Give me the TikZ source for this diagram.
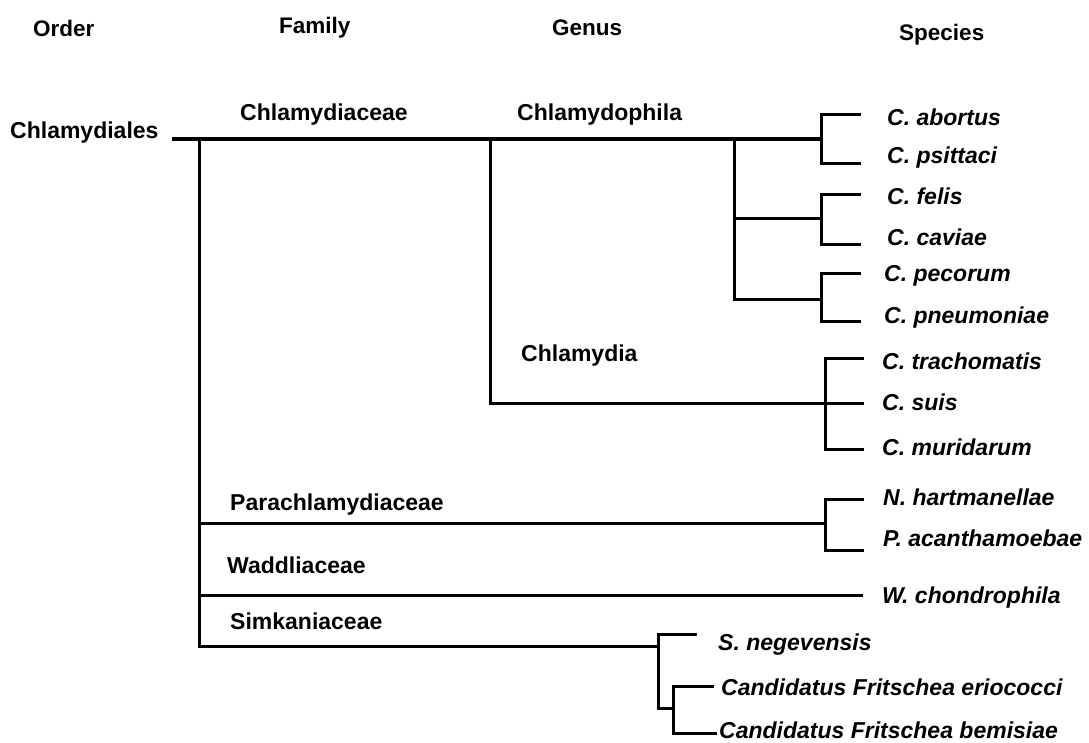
\documentclass[tikz,border=0pt]{standalone}
\usepackage{fontspec}
\setmainfont{Liberation Sans}
\begin{document}
\begin{tikzpicture}[x=1pt,y=-1pt,
  hdr/.style={anchor=base west,inner sep=0pt,font=\fontsize{22.5}{26}\selectfont\bfseries},
  lbl/.style={anchor=base west,inner sep=0pt,font=\fontsize{23}{27}\selectfont\bfseries},
  sp/.style={anchor=base west,inner sep=0pt,font=\fontsize{23}{27}\selectfont\bfseries\itshape},
  br/.style={line width=3pt,line cap=rect},
  main/.style={line width=3.5pt,line cap=rect}]
\useasboundingbox (0,0) rectangle (1089,742);
% headers
\node[hdr] (order) at (33,36) {Order};
\node[hdr] (family) at (279,33) {Family};
\node[hdr] (genus) at (552,35) {Genus};
\node[hdr] (species) at (899,40) {Species};
% taxon labels
\node[lbl] (chlamydiales) at (10,138) {Chlamydiales};
\node[lbl] (chlamydiaceae) at (240,120) {Chlamydiaceae};
\node[lbl] (chlamydophila) at (517,120) {Chlamydophila};
\node[lbl] (chlamydia) at (521,361) {Chlamydia};
\node[lbl] (parachl) at (230,510) {Parachlamydiaceae};
\node[lbl] (waddl) at (227,573) {Waddliaceae};
\node[lbl] (simk) at (230,629) {Simkaniaceae};
% species
\node[sp] (abortus) at (887,125) {C. abortus};
\node[sp] (psittaci) at (887,163) {C. psittaci};
\node[sp] (felis) at (887,204) {C. felis};
\node[sp] (caviae) at (887,245) {C. caviae};
\node[sp] (pecorum) at (884,281) {C. pecorum};
\node[sp] (pneumoniae) at (884,323) {C. pneumoniae};
\node[sp] (trachomatis) at (882,369) {C. trachomatis};
\node[sp] (suis) at (882,410) {C. suis};
\node[sp] (muridarum) at (882,455) {C. muridarum};
\node[sp] (hartmanellae) at (883,505) {N. hartmanellae};
\node[sp] (acanth) at (883,546) {P. acanthamoebae};
\node[sp] (chondro) at (882,603) {W. chondrophila};
\node[sp] (negev) at (718,650) {S. negevensis};
\node[sp] (erio) at (721,695) {Candidatus Fritschea eriococci};
\node[sp] (bemis) at (719,738) {Candidatus Fritschea bemisiae};
% coordinates
\coordinate (root) at (174,139);
\coordinate (famv) at (199,139);
\coordinate (genv) at (490,139);
\coordinate (cphv) at (734,139);
\coordinate (b1) at (821,139);
\coordinate (b1t) at (859,114);
\coordinate (b1b) at (859,163);
\coordinate (b2) at (821,218);
\coordinate (b2t) at (859,194);
\coordinate (b2b) at (859,244);
\coordinate (b3) at (821,299);
\coordinate (b3t) at (859,273);
\coordinate (b3b) at (859,321);
\coordinate (cv) at (825,403);
\coordinate (ct) at (862,358);
\coordinate (cm) at (862,403);
\coordinate (cb) at (862,449);
\coordinate (pv) at (825,523);
\coordinate (pt) at (862,499);
\coordinate (pb) at (862,550);
\coordinate (wend) at (861,595);
\coordinate (sv) at (658,646);
\coordinate (st) at (695,634);
\coordinate (sm) at (673,708);
\coordinate (fet) at (712,686);
\coordinate (feb) at (715,733);
% tree
\draw[main] (root) -- (b1);
\draw[br] (famv) -- (famv |- sv);
\draw[br] (genv) |- (cv);
\draw[br] (cphv) -- (cphv |- b3) -- (b3);
\draw[br] (cphv |- b2) -- (b2);
\draw[br] (b1t) -| (b1) |- (b1b);
\draw[br] (b2t) -| (b2) |- (b2b);
\draw[br] (b3t) -| (b3) |- (b3b);
\draw[br] (ct) -| (cv) |- (cb);
\draw[br] (cv) -- (cm);
\draw[br] (famv |- pv) -- (pv);
\draw[br] (pt) -| (pv) |- (pb);
\draw[br] (famv |- wend) -- (wend);
\draw[br] (famv |- sv) -- (sv);
\draw[br] (st) -| (sv) |- (sm);
\draw[br] (fet) -| (sm) |- (feb);
\end{tikzpicture}
\end{document}
